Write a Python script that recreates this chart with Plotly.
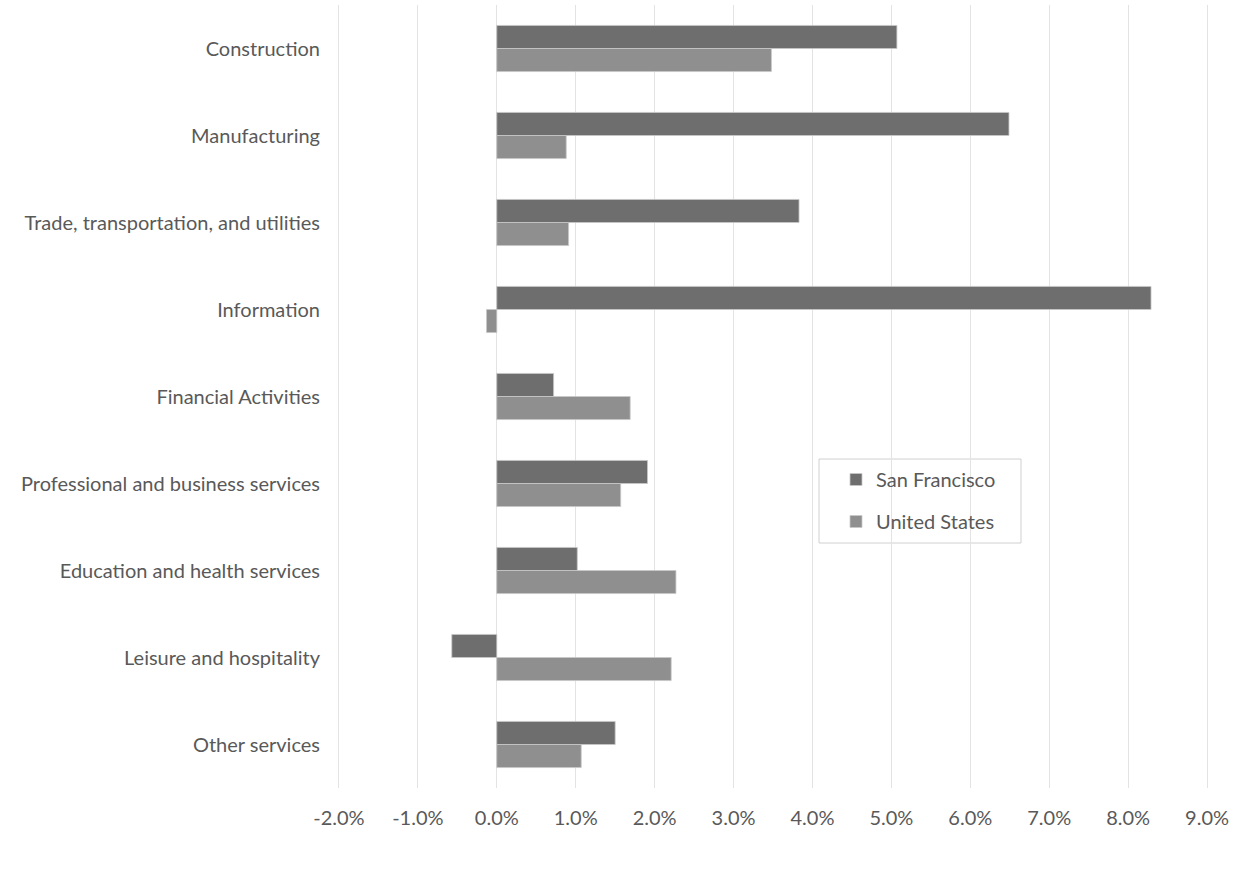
import plotly.graph_objects as go

categories = [
    "Construction",
    "Manufacturing",
    "Trade, transportation, and utilities",
    "Information",
    "Financial Activities",
    "Professional and business services",
    "Education and health services",
    "Leisure and hospitality",
    "Other services",
]
san_francisco = [0.0507, 0.0649, 0.0383, 0.0829, 0.0072, 0.0191, 0.0102, -0.0057, 0.0150]
united_states = [0.0348, 0.0088, 0.0091, -0.0013, 0.0169, 0.0157, 0.0227, 0.0221, 0.0107]
x_ticks = [-0.02, -0.01, 0.0, 0.01, 0.02, 0.03, 0.04, 0.05, 0.06, 0.07, 0.08, 0.09]
x_tick_labels = ["-2.0%", "-1.0%", "0.0%", "1.0%", "2.0%", "3.0%", "4.0%",
                 "5.0%", "6.0%", "7.0%", "8.0%", "9.0%"]

FONT = "Lato, 'Open Sans', sans-serif"
TXT = "#595959"
FS = 20

fig = go.Figure()
fig.add_trace(go.Bar(
    y=categories, x=san_francisco, name="San Francisco", orientation="h",
    marker=dict(color="#6e6e6e", line=dict(color="#c8c8c8", width=0.8)),
    legendgroup="a",
))
fig.add_trace(go.Bar(
    y=categories, x=united_states, name="United States", orientation="h",
    marker=dict(color="#8f8f8f", line=dict(color="#c8c8c8", width=0.8)),
    legendgroup="b",
))

W, H = 1244, 886
L, R, T, B = 335, 33, 5, 98
pw, ph = W - L - R, H - T - B

def px_x(p):
    return (p - L) / pw

def px_y(p):
    return (H - B - p) / ph

fig.update_layout(
    width=W, height=H,
    margin=dict(l=L, r=R, t=T, b=B),
    paper_bgcolor="white", plot_bgcolor="white",
    barmode="group", bargap=0.47, bargroupgap=0,
    font=dict(family=FONT, size=FS, color=TXT),
    xaxis=dict(
        range=[-0.0205, 0.0905], tickvals=x_ticks, ticktext=x_tick_labels,
        showgrid=True, gridcolor="#e3e3e3", gridwidth=1,
        zeroline=False, showline=False,
        ticks="outside", ticklen=12, tickcolor="rgba(0,0,0,0)",
        tickfont=dict(family=FONT, size=FS, color=TXT),
    ),
    yaxis=dict(
        autorange="reversed", showgrid=False, zeroline=False, showline=False,
        ticks="outside", ticklen=10, tickcolor="rgba(0,0,0,0)",
        tickfont=dict(family=FONT, size=FS, color=TXT),
    ),
    legend=dict(
        x=px_x(836), y=px_y(460), xanchor="left", yanchor="top",
        bgcolor="rgba(0,0,0,0)", borderwidth=0,
        traceorder="grouped", tracegroupgap=13,
        font=dict(family=FONT, size=FS, color=TXT),
    ),
    shapes=[dict(
        type="rect", xref="paper", yref="paper",
        x0=px_x(819), x1=px_x(1021), y0=px_y(543), y1=px_y(459),
        line=dict(color="#d0d0d0", width=1), fillcolor="white", layer="below",
    )],
)

fig.write_html("out.html", config={"displayModeBar": False},
               post_script="document.body.style.margin='0';")
